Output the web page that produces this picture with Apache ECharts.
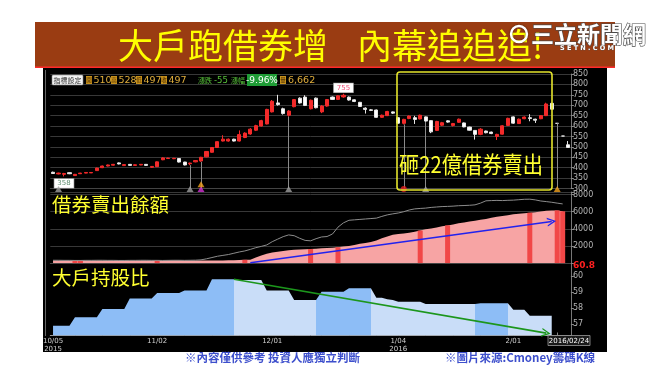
<!DOCTYPE html>
<html><head><meta charset="utf-8">
<script src="https://cdn.jsdelivr.net/npm/echarts@6/dist/echarts.min.js"></script>
<style>html,body{margin:0;padding:0;background:#fff}#c{width:650px;height:366px}</style>
</head><body><div id="c"></div>
<script>
// ---------- data ----------
const dates = [
'2015/10/05','2015/10/06','2015/10/07','2015/10/08','2015/10/12','2015/10/13','2015/10/14','2015/10/15','2015/10/16','2015/10/19',
'2015/10/20','2015/10/21','2015/10/22','2015/10/23','2015/10/26','2015/10/27','2015/10/28','2015/10/29','2015/10/30',
'2015/11/02','2015/11/03','2015/11/04','2015/11/05','2015/11/06','2015/11/09','2015/11/10','2015/11/11','2015/11/12','2015/11/13',
'2015/11/16','2015/11/17','2015/11/18','2015/11/19','2015/11/20','2015/11/23','2015/11/24','2015/11/25','2015/11/26','2015/11/27','2015/11/30',
'2015/12/01','2015/12/02','2015/12/03','2015/12/04','2015/12/07','2015/12/08','2015/12/09','2015/12/10','2015/12/11','2015/12/14',
'2015/12/15','2015/12/16','2015/12/17','2015/12/18','2015/12/21','2015/12/22','2015/12/23','2015/12/24','2015/12/25','2015/12/28',
'2015/12/29','2015/12/30','2015/12/31',
'2016/01/04','2016/01/05','2016/01/06','2016/01/07','2016/01/08','2016/01/11','2016/01/12','2016/01/13','2016/01/14','2016/01/15',
'2016/01/18','2016/01/19','2016/01/20','2016/01/21','2016/01/22','2016/01/25','2016/01/26','2016/01/27','2016/01/28','2016/01/29','2016/01/30',
'2016/02/01','2016/02/02','2016/02/03','2016/02/15','2016/02/16','2016/02/17','2016/02/18','2016/02/19','2016/02/22','2016/02/23','2016/02/24'
];
const openP = [378,370,368,376,362,371,374,375,386,400,408,412,423,410,416,411,413,416,402,405,
438,444,443,444,427,419,428,432,452,474,497,528,528,537,528,545,562,580,600,610,
668,711,683,652,693,734,739,683,734,668,696,739,728,740,739,726,714,686,678,677,
642,650,668,640,613,636,640,634,644,626,579,604,625,603,618,615,595,579,560,576,
571,550,561,603,644,612,635,640,633,635,650,709,613,552,510];
const closeP = [372,374,372,371,368,374,377,377,398,408,413,416,418,415,411,414,416,411,406,428,
447,446,445,427,413,422,434,450,478,497,525,537,537,528,559,566,585,602,626,680,
719,703,660,672,727,711,699,724,688,696,727,728,745,748,725,718,694,680,675,642,
652,670,662,614,632,648,632,652,624,572,622,616,619,612,633,596,580,560,585,568,
564,560,601,637,614,633,643,636,628,650,706,681,613,552,497];
const lowP = [370,368,358,369,361,370,373,374,385,398,406,410,416,408,410,410,412,409,399,403,
436,442,441,425,411,412,426,428,450,472,495,526,525,526,526,542,558,576,598,608,
665,698,655,645,690,708,696,680,685,662,693,725,725,736,722,715,692,660,672,640,
640,648,658,611,608,633,610,632,620,566,576,600,616,598,615,594,578,535,556,565,
561,533,559,600,611,610,633,623,615,633,648,680,613,552,497];
const highP = [381,376,375,377,370,375,378,378,400,410,415,418,425,416,417,416,417,417,408,430,
450,448,447,446,428,424,436,452,480,499,527,556,540,539,579,570,590,606,630,683,
725,750,688,676,730,738,748,727,737,700,730,742,748,755,742,728,716,690,682,679,
655,673,670,642,635,651,649,655,646,628,625,620,628,615,636,617,597,581,590,578,
573,563,604,640,646,636,646,657,635,653,712,712,613,552,528];
const volumeText = '6,662';

// 借券賣出餘額 (pink area) and highlighted days
const shortSell = [300,300,310,310,320,320,310,300,300,290,290,300,300,310,310,300,300,290,290,300,
310,320,320,320,310,300,300,300,290,290,300,310,320,330,350,380,
400,650,900,1100,1250,1330,1420,1500,1550,1580,1610,1640,1680,1720,1760,1800,1850,1950,2000,2100,
2250,2350,2450,2650,2900,3100,3300,3400,3450,3550,3650,3800,3950,4050,4150,4300,4400,4500,4650,4750,
4850,4950,5050,5150,5300,5400,5500,5600,5700,5760,5820,5880,5950,6020,6100,6150,6150,6050,null];
const shortHighlightIdx = [4,5,19,35,47,52,67,72,87,92,93];
// grey line in middle panel
const greyLine = [330,330,320,320,310,310,320,320,330,330,320,320,310,310,320,320,330,330,320,320,
310,320,330,330,320,330,340,
380,500,650,800,900,1000,1150,1300,1420,1600,1800,1950,2120,2500,2800,3090,3290,3200,2900,2650,
2600,2850,3050,3100,3400,4200,4700,5000,5050,5100,5150,5200,5250,5450,5630,5750,5850,6000,6200,6330,
6380,6420,6500,6550,6600,6620,6650,6700,6720,6750,6800,7000,7270,7300,7320,7300,7330,7350,7400,7450,
7460,7380,7250,7180,7100,7000,6910,null];
// 大戶持股比
const holding = [56.9,56.9,56.9,56.9,57.44,57.44,57.44,57.44,57.44,57.94,57.94,57.94,57.94,57.94,
58.6,58.6,58.6,58.6,58.6,58.94,58.94,58.94,58.94,58.94,59.1,59.1,59.1,59.1,59.1,
59.8,59.8,59.8,59.8,59.8,59.75,59.75,59.75,59.75,59.75,59.1,59.1,59.1,59.1,59.1,
58.5,58.5,58.5,58.5,58.5,59.02,59.02,59.02,59.02,59.02,59.24,59.24,59.24,59.24,59.24,
58.65,58.65,58.55,58.5,58.4,58.4,58.4,58.4,58.4,
58.26,58.26,58.26,58.26,58.26,58.26,58.26,58.26,58.26,58.26,
58.3,58.3,58.3,58.3,58.3,58.3,57.9,57.9,57.9,57.53,57.53,57.53,57.53,57.53,null,null,null];
// colour segments of the holding area (boundaries in category index)
const holdingBreaks = [32.8, 48.2, 58.2, 77, 83];
// event markers under the candles
const markerIdx = [1,25,27,27,43,64,68,92];
const markerKind = ['flag','flag','sell','buy','flag','dot','flag','buy'];
const markerLineIdx = [25,27,43,64,68,92];
// arrows
const blueArrow = [[36,50],[91,4850]];
const greenArrow = [[33,59.8],[90,56.45]];

// ---------- derived ----------
const N = dates.length;
const last = N-1;
const chg = closeP[last]-closeP[last-1];
const pct = (chg/closeP[last-1]*100).toFixed(2)+'%';
const dayOf = s => new Date(s.replace(/\//g,'-')+'T00:00:00Z');
const weekStart = new Set(), monthStart = new Set();
dates.forEach((d,i)=>{
  if(i===0){weekStart.add(i);monthStart.add(i);return;}
  const a=dayOf(dates[i-1]), b=dayOf(d);
  if(b.getUTCDay()<=a.getUTCDay() || (b-a)>=7*864e5) weekStart.add(i);
  if(b.getUTCMonth()!==a.getUTCMonth()) monthStart.add(i);
});
const fmtLabel = i => {
  const [y,m,dd]=dates[i].split('/');
  let s = (+m)+'/'+dd;
  if(i===0 || +m===1) s += '\n'+y;
  return s;
};
const hlSet = new Set(shortHighlightIdx);
const DARK='#8dbdf6', LIGHT='#c9ddf8';
const pieces=[]; let prev=-1;
holdingBreaks.concat([1000]).forEach((b,k)=>{pieces.push({gte:prev,lt:b,color:k%2===0?DARK:LIGHT});prev=b;});
const kindStyle = {
  flag:{symbol:'triangle',color:'#a0a0a0'},
  buy:{symbol:'triangle',color:'#f2a21e'},
  sell:{symbol:'triangle',color:'#d631d6'},
  dot:{symbol:'circle',color:'#e82020'}
};
const used={};
const markerData = markerIdx.map((i,k)=>{
  const lvl = used[i] ? 321 : 297; used[i]=true;
  const st = kindStyle[markerKind[k]];
  return {value:[dates[i],lvl],symbol:st.symbol,symbolSize:st.symbol==='circle'?[6,6]:[7,6],itemStyle:{color:st.color}};
});
const chevron='path://M0,10 L5,0 L10,10 L8.4,10 L5,3.2 L1.6,10 Z';
const CJK='"Noto Sans CJK TC","Noto Sans CJK SC",sans-serif';
const LAT='"DejaVu Sans",sans-serif';

// info bar pieces (quote of the last day)
const quoteItems = [['開',openP[last]],['高',highP[last]],['低',lowP[last]],['收',closeP[last]]];
const infoGraphics = [];
quoteItems.forEach((q,k)=>{
  const x0 = 86 + k*25;
  infoGraphics.push({type:'rect',z:100,silent:true,shape:{x:x0,y:76,width:6,height:8},style:{fill:'#c8921c'}});
  infoGraphics.push({type:'text',z:101,silent:true,style:{text:q[0],x:x0+3,y:80.3,fill:'#4a2c00',fontSize:5.5,fontFamily:CJK,align:'center',verticalAlign:'middle'}});
  infoGraphics.push({type:'text',z:101,silent:true,style:{text:String(q[1]),x:x0+7.5,y:80.5,fill:'#e0ae3c',fontSize:9.5,fontFamily:LAT,verticalAlign:'middle'}});
});
infoGraphics.push(
  {type:'text',z:101,silent:true,style:{text:'漲跌',x:198,y:80,fill:'#58c23a',fontSize:7,fontFamily:CJK,verticalAlign:'middle'}},
  {type:'text',z:101,silent:true,style:{text:String(chg),x:214,y:80.5,fill:'#58c23a',fontSize:8.5,fontFamily:LAT,verticalAlign:'middle'}},
  {type:'text',z:101,silent:true,style:{text:'漲幅',x:231,y:80,fill:'#58c23a',fontSize:7,fontFamily:CJK,verticalAlign:'middle'}},
  {type:'rect',z:100,silent:true,shape:{x:247,y:74,width:30,height:12},style:{fill:'#1f9c36'}},
  {type:'text',z:101,silent:true,style:{text:pct,x:262,y:80.3,fill:'#ffffff',fontSize:9,fontFamily:LAT,align:'center',verticalAlign:'middle'}},
  {type:'rect',z:100,silent:true,shape:{x:280,y:76,width:6,height:8},style:{fill:'#c8921c'}},
  {type:'text',z:101,silent:true,style:{text:'量',x:283,y:80.3,fill:'#4a2c00',fontSize:5.5,fontFamily:CJK,align:'center',verticalAlign:'middle'}},
  {type:'text',z:101,silent:true,style:{text:volumeText,x:288,y:80.5,fill:'#e0ae3c',fontSize:9.5,fontFamily:LAT,verticalAlign:'middle'}}
);

const gridL=50.3, gridW=520.6;
const option = {
  animation:false,
  backgroundColor:'#ffffff',
  grid:[
    {left:gridL,width:gridW,top:74,height:114.5},
    {left:gridL,width:gridW,top:192,height:71.1},
    {left:gridL,width:gridW,top:263.1,height:72.4}
  ],
  xAxis:[0,1,2].map(g=>({
    type:'category',gridIndex:g,data:dates,boundaryGap:true,
    axisLine:{show:true,lineStyle:{color:g===2?'#9a9a9a':'#444'}},
    axisTick:g===2?{show:true,inside:true,length:3,alignWithLabel:true,interval:i=>weekStart.has(i),lineStyle:{color:'#888'}}:{show:false},
    axisLabel:g===2?{show:true,interval:i=>monthStart.has(i),formatter:(v,i)=>fmtLabel(i),color:'#d0d0d0',fontSize:7,lineHeight:8,margin:1.5,fontFamily:LAT}:{show:false},
    splitLine:{show:false}
  })),
  yAxis:[
    {type:'value',gridIndex:0,position:'right',min:300,max:850,interval:50,
     axisLine:{show:true,lineStyle:{color:'#777'}},axisTick:{show:true,length:3,lineStyle:{color:'#888'}},
     axisLabel:{color:'#b4b4b4',fontSize:8,margin:2,fontFamily:LAT},
     splitLine:{show:true,lineStyle:{color:'#383838',width:1}}},
    {type:'value',gridIndex:1,position:'right',min:0,max:8300,interval:2000,
     axisLine:{show:true,lineStyle:{color:'#777'}},axisTick:{show:true,length:3,lineStyle:{color:'#888'}},
     axisLabel:{color:'#b4b4b4',fontSize:8,margin:2,fontFamily:LAT,formatter:v=>(v>0&&v%2000===0)?String(v):''},
     splitLine:{show:true,lineStyle:{color:'#383838',width:1}}},
    {type:'value',gridIndex:2,position:'right',min:56.3,max:60.8,
     axisLine:{show:true,lineStyle:{color:'#777'}},
     axisTick:{show:true,length:3,customValues:[57,58,59,60],lineStyle:{color:'#888'}},
     axisLabel:{customValues:[57,58,59,60,60.8],color:'#b4b4b4',fontSize:8,margin:2,fontFamily:LAT,
       formatter:v=>Math.abs(v-60.8)<1e-6?'{r|60.8}':String(v),
       rich:{r:{color:'#ff2020',fontWeight:'bold',fontSize:9,fontFamily:LAT,padding:[6,0,0,0]}}},
     splitLine:{show:false}}
  ],
  visualMap:[{show:false,type:'piecewise',seriesIndex:5,dimension:0,pieces:pieces}],
  series:[
    {type:'candlestick',xAxisIndex:0,yAxisIndex:0,barWidth:3.6,z:3,
     data:dates.map((d,i)=>[openP[i],closeP[i],lowP[i],highP[i]]),
     itemStyle:{color:'#f22a2a',color0:'#ffffff',borderColor:'#f22a2a',borderColor0:'#e6e6e6',borderWidth:1},
     markPoint:{symbol:'rect',symbolSize:0.01,silent:true,
       label:{show:true,position:'inside',formatter:p=>String(p.value),backgroundColor:'#ffffff',borderColor:'#9a9a9a',borderWidth:0.6,padding:[1,3],fontSize:7,fontFamily:LAT},
       data:[
         {type:'max',valueDim:'highest',label:{offset:[0,-6],color:'#f0507a'}},
         {type:'min',valueDim:'lowest',label:{offset:[0,7],color:'#5f8f70'}}
       ]},
     markLine:{silent:true,symbol:['none','none'],label:{show:false},lineStyle:{color:'#8a8a8a',width:1,type:'solid'},
       data:markerLineIdx.map(i=>[{coord:[dates[i],lowP[i]]},{coord:[dates[i],300]}])}
    },
    {type:'scatter',xAxisIndex:0,yAxisIndex:0,clip:false,z:6,data:markerData},
    {type:'line',xAxisIndex:1,yAxisIndex:1,data:shortSell,symbol:'none',z:2,
     lineStyle:{width:0},areaStyle:{color:'#f7a4a4',opacity:1}},
    {type:'bar',xAxisIndex:1,yAxisIndex:1,z:3,barWidth:5,
     data:dates.map((d,i)=>hlSet.has(i)?shortSell[i]:null),itemStyle:{color:'#f14747'}},
    {type:'line',xAxisIndex:1,yAxisIndex:1,data:greyLine,symbol:'none',z:4,
     lineStyle:{color:'#8c8c8c',width:1},
     markLine:{silent:true,symbol:['none',chevron],symbolSize:[9,9],label:{show:false},
       lineStyle:{color:'#2222ee',width:1.6,type:'solid'},
       data:[[{coord:[dates[blueArrow[0][0]],blueArrow[0][1]]},{coord:[dates[blueArrow[1][0]],blueArrow[1][1]]}]]}},
    {type:'line',xAxisIndex:2,yAxisIndex:2,data:holding,symbol:'none',z:2,
     lineStyle:{width:0},areaStyle:{opacity:1},
     markLine:{silent:true,symbol:['none',chevron],symbolSize:[9,9],label:{show:false},
       lineStyle:{color:'#1c961c',width:1.6,type:'solid'},itemStyle:{color:'#1c961c'},
       data:[[{coord:[dates[greenArrow[0][0]],greenArrow[0][1]]},{coord:[dates[greenArrow[1][0]],greenArrow[1][1]]}]]}}
  ],
  graphic:[
    {type:'rect',z:-10,silent:true,shape:{x:43,y:68,width:564,height:284},style:{fill:'#000000'}},
    {type:'line',z:-9,silent:true,shape:{x1:45.5,y1:70,x2:45.5,y2:336},style:{stroke:'#666',lineWidth:1}},
    // banner
    {type:'rect',z:-9,silent:true,shape:{x:35,y:22,width:580,height:46},style:{fill:'#9a3c12'}},
    {type:'rect',z:-8,silent:true,shape:{x:35,y:66.5,width:580,height:1.6},style:{fill:'#ff2a2a'}},
    {type:'text',z:100,silent:true,style:{text:'大戶跑借券增',x:118,y:46,fill:'#ffff00',fontSize:35,fontFamily:CJK,verticalAlign:'middle'}},
    {type:'text',z:100,silent:true,style:{text:'內幕追追追!',x:357,y:46,fill:'#ffff00',fontSize:35,fontFamily:CJK,verticalAlign:'middle'}},
    // logo
    {type:'circle',z:100,silent:true,shape:{cx:519,cy:34,r:8},style:{fill:'none',stroke:'#ffffff',lineWidth:2.4,shadowColor:'rgba(0,0,0,0.6)',shadowBlur:2}},
    {type:'text',z:100,silent:true,style:{text:'三立新聞網',x:531,y:34,fill:'#ffffff',stroke:'#4a4a4a',lineWidth:1.2,fontSize:23,fontWeight:'bold',fontFamily:CJK,verticalAlign:'middle'}},
    {type:'text',z:100,silent:true,style:{text:'S E T N . C O M',x:560,y:48,fill:'#ffffff',stroke:'#555',lineWidth:0.6,fontSize:6.5,fontWeight:'bold',fontFamily:LAT,verticalAlign:'middle'}},
    // info bar
    {type:'rect',z:100,silent:true,shape:{x:52,y:75,width:31,height:10,r:1},style:{fill:'#f2f2f2',stroke:'#888',lineWidth:0.6}},
    {type:'text',z:101,silent:true,style:{text:'指標設定',x:67.5,y:80,fill:'#333',fontSize:7,fontFamily:CJK,align:'center',verticalAlign:'middle'}},
    ...infoGraphics,
    // yellow annotation box
    {type:'rect',z:50,silent:true,shape:{x:397,y:72,width:155,height:118,r:3},style:{fill:'none',stroke:'#e4e42c',lineWidth:1.6}},
    {type:'text',z:100,silent:true,x:471,y:164,scaleX:0.88,style:{text:'砸22億借券賣出',x:0,y:0,fill:'#ffff30',fontSize:23,fontFamily:CJK,align:'center',verticalAlign:'middle'}},
    // panel labels
    {type:'text',z:100,silent:true,style:{text:'借券賣出餘額',x:52,y:205,fill:'#ffff30',fontSize:19.5,fontFamily:CJK,verticalAlign:'middle'}},
    {type:'text',z:100,silent:true,style:{text:'大戶持股比',x:52,y:278,fill:'#ffff30',fontSize:19.5,fontFamily:CJK,verticalAlign:'middle'}},
    // date cursor box
    {type:'rect',z:100,silent:true,shape:{x:548,y:335.5,width:42,height:10},style:{fill:'#1a1a1a',stroke:'#9a9a9a',lineWidth:0.8}},
    {type:'text',z:101,silent:true,style:{text:dates[last],x:569,y:340.8,fill:'#ffffff',fontSize:7,fontFamily:LAT,align:'center',verticalAlign:'middle'}},
    // footer notes
    {type:'text',z:100,silent:true,style:{text:'※內容僅供參考 投資人應獨立判斷',x:185,y:358,fill:'#3d4fcc',fontSize:11.5,fontWeight:'bold',fontFamily:CJK,verticalAlign:'middle'}},
    {type:'text',z:100,silent:true,style:{text:'※圖片來源:Cmoney籌碼K線',x:445,y:358,fill:'#3d4fcc',fontSize:11.5,fontWeight:'bold',fontFamily:CJK,verticalAlign:'middle'}}
  ]
};
const chart = echarts.init(document.getElementById('c'),null,{renderer:'canvas',width:650,height:366});
chart.setOption(option);
</script>
</body></html>
